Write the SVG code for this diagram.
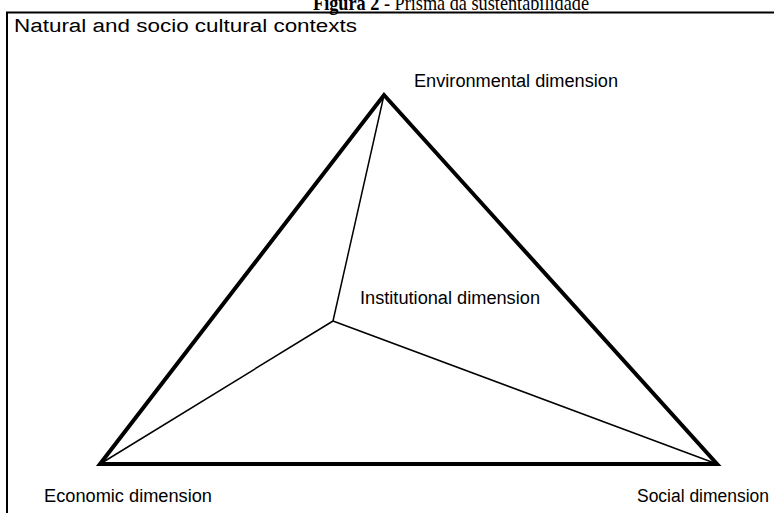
<svg xmlns="http://www.w3.org/2000/svg" width="774" height="513" viewBox="0 0 774 513">
<style>
.lbl{font-family:"Liberation Sans",Arial,sans-serif;font-size:18px;fill:#000}
.title{font-family:"Liberation Serif","Times New Roman",serif;font-size:21px;fill:#000}
.thick{fill:none;stroke:#000;stroke-width:4;stroke-linejoin:miter}
.thin{fill:none;stroke:#000;stroke-width:1.5}
.frame{fill:none;stroke:#000;stroke-width:2}
</style>
<rect width="774" height="513" fill="#fff"/>
<text class="title" x="313" y="10" textLength="276" lengthAdjust="spacingAndGlyphs"><tspan font-weight="bold">Figura 2</tspan> - Prisma da sustentabilidade</text>
<g id="frame">
<polyline class="frame" points="7,513 7,12.5 774,12.5"/>
<text class="lbl" x="14" y="32" font-size="20" textLength="343" lengthAdjust="spacingAndGlyphs">Natural and socio cultural contexts</text>
</g>
<g id="connectors">
<line class="thin" x1="333" y1="321" x2="384" y2="95"/>
<line class="thin" x1="333" y1="321" x2="100" y2="464"/>
<line class="thin" x1="333" y1="321" x2="717" y2="464"/>
<polygon class="thick" points="384,95 717,464 100,464"/>
</g>
<g id="environmental">
<text class="lbl" x="414" y="87" textLength="204" lengthAdjust="spacingAndGlyphs">Environmental dimension</text>
</g>
<g id="institutional">
<text class="lbl" x="360" y="304" textLength="180" lengthAdjust="spacingAndGlyphs">Institutional dimension</text>
</g>
<g id="economic">
<text class="lbl" x="44" y="502" textLength="168" lengthAdjust="spacingAndGlyphs">Economic dimension</text>
</g>
<g id="social">
<text class="lbl" x="637" y="502" textLength="132" lengthAdjust="spacingAndGlyphs">Social dimension</text>
</g>
</svg>
